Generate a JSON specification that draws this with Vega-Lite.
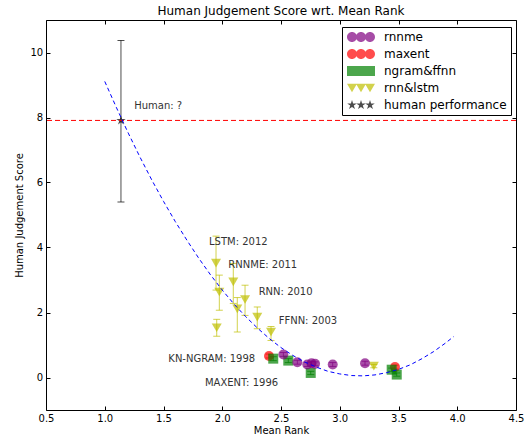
{
  "$schema": "https://vega.github.io/schema/vega-lite/v6.json",
  "width": 470,
  "height": 390,
  "autosize": {"type": "none"},
  "padding": {"left": 46, "top": 20, "right": 11, "bottom": 29},
  "title": {"text": "Human Judgement Score wrt. Mean Rank", "fontSize": 12, "fontWeight": "normal", "font": "DejaVu Sans", "color": "black", "offset": 2},
  "config": {
    "font": "DejaVu Sans",
    "view": {"stroke": "black", "strokeWidth": 1},
    "axis": {"grid": false, "domain": false, "tickColor": "black", "labelColor": "black", "labelFontSize": 10, "titleFontSize": 10, "titleFontWeight": "normal", "titleColor": "black", "labelFont": "DejaVu Sans", "titleFont": "DejaVu Sans"}
  },
  "datasets": {
    "pts": [
      {"s": "human performance", "x": 1.138, "y": 7.91, "lo": 5.40, "hi": 10.37},
      {"s": "rnn&lstm", "x": 1.947, "y": 3.52, "lo": 2.69, "hi": 4.35},
      {"s": "rnn&lstm", "x": 1.975, "y": 2.63, "lo": 2.07, "hi": 3.15},
      {"s": "rnn&lstm", "x": 2.094, "y": 2.94, "lo": 2.28, "hi": 3.51},
      {"s": "rnn&lstm", "x": 2.128, "y": 2.11, "lo": 1.40, "hi": 2.46},
      {"s": "rnn&lstm", "x": 2.194, "y": 2.40, "lo": 1.91, "hi": 2.84},
      {"s": "rnn&lstm", "x": 2.298, "y": 1.86, "lo": 1.50, "hi": 2.17},
      {"s": "rnn&lstm", "x": 1.953, "y": 1.53, "lo": 1.27, "hi": 1.79},
      {"s": "rnn&lstm", "x": 2.415, "y": 1.40, "lo": 1.14, "hi": 1.57},
      {"s": "rnn&lstm", "x": 3.29, "y": 0.35, "lo": 0.30, "hi": 0.40},
      {"s": "maxent", "x": 2.398, "y": 0.66, "lo": 0.60, "hi": 0.72},
      {"s": "maxent", "x": 3.47, "y": 0.32, "lo": 0.26, "hi": 0.38},
      {"s": "ngram&ffnn", "x": 2.434, "y": 0.58, "lo": 0.52, "hi": 0.64},
      {"s": "ngram&ffnn", "x": 2.562, "y": 0.52, "lo": 0.46, "hi": 0.58},
      {"s": "ngram&ffnn", "x": 2.753, "y": 0.14, "lo": 0.09, "hi": 0.19},
      {"s": "ngram&ffnn", "x": 3.442, "y": 0.24, "lo": 0.19, "hi": 0.29},
      {"s": "ngram&ffnn", "x": 3.485, "y": 0.09, "lo": 0.04, "hi": 0.14},
      {"s": "rnnme", "x": 2.52, "y": 0.71, "lo": 0.65, "hi": 0.77},
      {"s": "rnnme", "x": 2.639, "y": 0.47, "lo": 0.41, "hi": 0.53},
      {"s": "rnnme", "x": 2.724, "y": 0.40, "lo": 0.34, "hi": 0.46},
      {"s": "rnnme", "x": 2.76, "y": 0.44, "lo": 0.38, "hi": 0.50},
      {"s": "rnnme", "x": 2.79, "y": 0.42, "lo": 0.36, "hi": 0.48},
      {"s": "rnnme", "x": 2.94, "y": 0.40, "lo": 0.34, "hi": 0.46},
      {"s": "rnnme", "x": 3.215, "y": 0.44, "lo": 0.38, "hi": 0.50}
    ],
    "curve": [
      {"x": 1.0, "y": 9.11}, {"x": 1.1, "y": 8.30}, {"x": 1.2, "y": 7.52}, {"x": 1.3, "y": 6.78},
      {"x": 1.4, "y": 6.08}, {"x": 1.5, "y": 5.42}, {"x": 1.6, "y": 4.80}, {"x": 1.7, "y": 4.22},
      {"x": 1.8, "y": 3.67}, {"x": 1.9, "y": 3.16}, {"x": 2.0, "y": 2.69}, {"x": 2.1, "y": 2.26},
      {"x": 2.2, "y": 1.87}, {"x": 2.3, "y": 1.52}, {"x": 2.4, "y": 1.20}, {"x": 2.5, "y": 0.92},
      {"x": 2.6, "y": 0.68}, {"x": 2.7, "y": 0.48}, {"x": 2.8, "y": 0.32}, {"x": 2.9, "y": 0.19},
      {"x": 3.0, "y": 0.11}, {"x": 3.1, "y": 0.06}, {"x": 3.2, "y": 0.05}, {"x": 3.3, "y": 0.08},
      {"x": 3.4, "y": 0.15}, {"x": 3.5, "y": 0.25}, {"x": 3.6, "y": 0.39}, {"x": 3.7, "y": 0.58},
      {"x": 3.8, "y": 0.80}, {"x": 3.9, "y": 1.06}, {"x": 3.97, "y": 1.26}
    ],
    "notes": [
      {"t": "Human: ?", "x": 1.251, "y": 8.26},
      {"t": "LSTM: 2012", "x": 1.887, "y": 4.07},
      {"t": "RNNME: 2011", "x": 2.052, "y": 3.37},
      {"t": "RNN: 2010", "x": 2.31, "y": 2.55},
      {"t": "FFNN: 2003", "x": 2.48, "y": 1.64},
      {"t": "KN-NGRAM: 1998", "x": 1.541, "y": 0.47},
      {"t": "MAXENT: 1996", "x": 1.853, "y": -0.25}
    ],
    "human": [{"y": 7.91}]
  },
  "layer": [
    {
      "data": {"name": "pts"},
      "mark": {"type": "errorbar", "ticks": {"size": 7, "opacity": 0.7}, "rule": {"opacity": 0.7}},
      "encoding": {
        "x": {"field": "x", "type": "quantitative", "scale": {"domain": [0.5, 4.5], "nice": false, "zero": false},
              "axis": {"orient": "bottom", "values": [0.5, 1.0, 1.5, 2.0, 2.5, 3.0, 3.5, 4.0, 4.5], "format": ".1f", "tickSize": -4, "labelPadding": 7.5, "labelFlush": false, "title": "Mean Rank", "titlePadding": 2}},
        "y": {"field": "lo", "type": "quantitative", "scale": {"domain": [-1, 11], "nice": false, "zero": false},
              "axis": {"orient": "left", "values": [0, 2, 4, 6, 8, 10], "format": "d", "tickSize": -4, "labelPadding": 7.3, "title": "Human Judgement Score", "titlePadding": 5}},
        "y2": {"field": "hi"},
        "color": {"field": "s", "type": "nominal", "legend": null,
                  "scale": {"domain": ["rnnme", "maxent", "ngram&ffnn", "rnn&lstm", "human performance"], "range": ["purple", "red", "green", "#bfbf00", "black"]}}
      }
    },
    {
      "data": {"name": "pts"},
      "mark": {"type": "point", "filled": true, "opacity": 0.7, "size": 100},
      "encoding": {
        "x": {"field": "x", "type": "quantitative", "scale": {"domain": [0.5, 4.5], "nice": false, "zero": false}, "axis": null},
        "y": {"field": "y", "type": "quantitative", "scale": {"domain": [-1, 11], "nice": false, "zero": false}, "axis": null},
        "color": {"field": "s", "type": "nominal", "legend": null,
                  "scale": {"domain": ["rnnme", "maxent", "ngram&ffnn", "rnn&lstm", "human performance"], "range": ["purple", "red", "green", "#bfbf00", "black"]}},
        "shape": {"field": "s", "type": "nominal", "legend": null,
                  "scale": {"domain": ["rnnme", "maxent", "ngram&ffnn", "rnn&lstm", "human performance"], "range": ["circle", "circle", "square", "triangle-down", "M0,-1L0.225,-0.309L0.951,-0.309L0.363,0.118L0.588,0.809L0,0.382L-0.588,0.809L-0.363,0.118L-0.951,-0.309L-0.225,-0.309Z"]}}
      }
    },
    {
      "data": {"name": "pts"},
      "mark": {"type": "point", "filled": true, "size": 0},
      "encoding": {
        "x": {"field": "x", "type": "quantitative", "scale": {"domain": [0.5, 4.5], "nice": false, "zero": false}, "axis": null},
        "y": {"field": "y", "type": "quantitative", "scale": {"domain": [-1, 11], "nice": false, "zero": false}, "axis": null},
        "color": {"field": "s", "type": "nominal",
                  "scale": {"domain": ["rnnme", "maxent", "ngram&ffnn", "rnn&lstm", "human performance"], "range": ["purple", "red", "green", "#bfbf00", "black"]},
                  "legend": {"orient": "none", "legendX": 296, "legendY": 7, "title": null, "symbolSize": 100, "labelFontSize": 12, "labelFont": "DejaVu Sans", "labelColor": "black", "labelOffset": 26, "padding": 4, "rowPadding": 5, "strokeColor": "black", "fillColor": "white", "symbolOpacity": 0.7, "symbolStrokeWidth": 0}},
        "shape": {"field": "s", "type": "nominal",
                  "scale": {"domain": ["rnnme", "maxent", "ngram&ffnn", "rnn&lstm", "human performance"],
                            "range": [
                              "M-1,0A1,1,0,1,1,1,0A1,1,0,1,1,-1,0ZM0.8,0A1,1,0,1,1,2.8,0A1,1,0,1,1,0.8,0ZM2.6,0A1,1,0,1,1,4.6,0A1,1,0,1,1,2.6,0Z",
                              "M-1,0A1,1,0,1,1,1,0A1,1,0,1,1,-1,0ZM0.8,0A1,1,0,1,1,2.8,0A1,1,0,1,1,0.8,0ZM2.6,0A1,1,0,1,1,4.6,0A1,1,0,1,1,2.6,0Z",
                              "M-1,-1H1V1H-1ZM0.8,-1H2.8V1H0.8ZM2.6,-1H4.6V1H2.6Z",
                              "M-1,-0.85L1,-0.85L0,0.85ZM0.8,-0.85L2.8,-0.85L1.8,0.85ZM2.6,-0.85L4.6,-0.85L3.6,0.85Z",
                              "M0,-1L0.225,-0.309L0.951,-0.309L0.363,0.118L0.588,0.809L0,0.382L-0.588,0.809L-0.363,0.118L-0.951,-0.309L-0.225,-0.309ZM1.8,-1L2.025,-0.309L2.751,-0.309L2.163,0.118L2.388,0.809L1.8,0.382L1.212,0.809L1.437,0.118L0.849,-0.309L1.575,-0.309ZM3.6,-1L3.825,-0.309L4.551,-0.309L3.963,0.118L4.188,0.809L3.6,0.382L3.012,0.809L3.237,0.118L2.649,-0.309L3.375,-0.309Z"
                            ]},
                  "legend": {"orient": "none", "legendX": 296, "legendY": 7, "title": null, "symbolSize": 100, "labelFontSize": 12, "labelFont": "DejaVu Sans", "labelColor": "black", "labelOffset": 26, "padding": 4, "rowPadding": 5, "strokeColor": "black", "fillColor": "white", "symbolOpacity": 0.7, "symbolStrokeWidth": 0}}
      }
    },
    {
      "data": {"name": "human"},
      "mark": {"type": "rule", "color": "red", "strokeDash": [5, 3], "strokeWidth": 1},
      "encoding": {
        "y": {"field": "y", "type": "quantitative", "scale": {"domain": [-1, 11], "nice": false, "zero": false}, "axis": null}
      }
    },
    {
      "data": {"name": "curve"},
      "mark": {"type": "line", "color": "blue", "strokeDash": [4, 3], "strokeWidth": 1},
      "encoding": {
        "x": {"field": "x", "type": "quantitative", "scale": {"domain": [0.5, 4.5], "nice": false, "zero": false},
              "axis": {"orient": "top", "values": [0.5, 1.0, 1.5, 2.0, 2.5, 3.0, 3.5, 4.0, 4.5], "labels": false, "tickSize": -4, "title": null}},
        "y": {"field": "y", "type": "quantitative", "scale": {"domain": [-1, 11], "nice": false, "zero": false},
              "axis": {"orient": "right", "values": [0, 2, 4, 6, 8, 10], "labels": false, "tickSize": -4, "title": null}}
      }
    },
    {
      "data": {"name": "notes"},
      "mark": {"type": "text", "align": "left", "baseline": "alphabetic", "fontSize": 10, "color": "#333", "font": "DejaVu Sans"},
      "encoding": {
        "x": {"field": "x", "type": "quantitative", "scale": {"domain": [0.5, 4.5], "nice": false, "zero": false}, "axis": null},
        "y": {"field": "y", "type": "quantitative", "scale": {"domain": [-1, 11], "nice": false, "zero": false}, "axis": null},
        "text": {"field": "t"}
      }
    }
  ],
  "resolve": {"scale": {"color": "independent", "shape": "independent"}, "axis": {"x": "independent", "y": "independent"}}
}
